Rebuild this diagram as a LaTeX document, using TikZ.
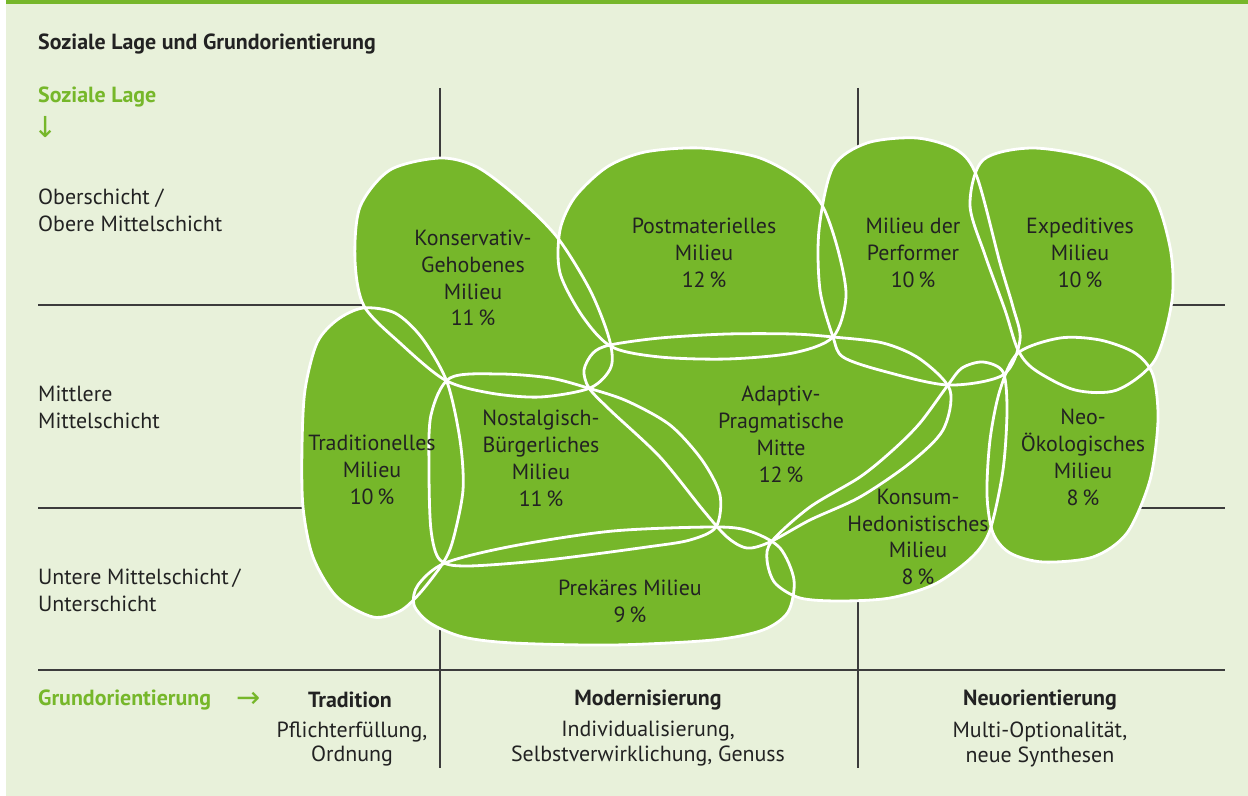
\documentclass[tikz,border=0pt]{standalone}
\usepackage{fontspec}
\setmainfont{PT Sans}
\newfontfamily\arrowfont{DejaVu Sans}
\usetikzlibrary{positioning}
\definecolor{milieu}{HTML}{76B72A}
\definecolor{panel}{HTML}{E8F1DA}
\definecolor{ink}{HTML}{222222}
\definecolor{rule}{HTML}{3C3C3C}

% the ten milieu shapes, drawn once for the fill and once for the outlines
\newcommand{\milieuShapes}[1]{%
  % Konservativ-Gehobenes
  \path[#1] plot[smooth cycle] coordinates {(440,158) (477,167) (517,197) (557,237) (590,290) (609,338) (611,367) (590,388) (540,397) (490,393) (445,380) (400,343) (364,306) (355,260) (360,207) (390,170)};
  % Postmaterielles
  \path[#1] plot[smooth cycle] coordinates {(700,148) (757,157) (797,178) (822,205) (838,250) (846,297) (833,337) (793,353) (727,359) (660,357) (612,347) (583,317) (560,273) (560,230) (575,197) (607,167) (645,152)};
  % Performer
  \path[#1] plot[smooth cycle] coordinates {(833,167) (867,143) (917,138) (957,150) (977,177) (1000,263) (1013,307) (1020,340) (1003,375) (948,385) (883,371) (843,357) (833,337) (820,290) (819,230)};
  % Expeditives
  \path[#1] plot[smooth cycle] coordinates {(970,205) (983,160) (1033,148) (1100,160) (1150,190) (1170,247) (1172,300) (1155,360) (1117,390) (1075,390) (1035,370) (1018,350) (1005,310) (985,255)};
  % Traditionelles
  \path[#1] plot[smooth cycle] coordinates {(363,308) (395,313) (422,338) (447,382) (460,440) (463,490) (453,540) (443,563) (420,593) (400,611) (373,617) (337,597) (313,557) (303,507) (302,447) (305,390) (317,343) (337,320)};
  % Nostalgisch-Buergerliches
  \path[#1] plot[smooth cycle] coordinates {(450,378) (500,374) (550,378) (588,388) (627,401) (670,425) (702,460) (720,495) (716,527) (690,540) (647,547) (547,560) (467,566) (440,560) (431,530) (429,470) (431,415)};
  % Adaptiv-Pragmatische
  \path[#1] plot[smooth cycle] coordinates {(610,345) (660,338) (727,334) (793,334) (833,337) (883,343) (920,359) (950,390) (943,430) (910,463) (860,497) (810,520) (770,542) (747,548) (727,537) (703,510) (660,457) (610,410) (589,388) (584,370) (593,353)};
  % Konsum-Hedonistisches
  \path[#1] plot[smooth cycle] coordinates {(810,507) (860,477) (893,450) (920,423) (948,385) (962,368) (983,362) (1003,372) (1007,410) (1003,470) (990,530) (972,557) (935,584) (890,598) (840,601) (800,598) (775,583) (767,560) (772,541)};
  % Neo-Oekologisches
  \path[#1] plot[smooth cycle] coordinates {(1018,353) (1060,338) (1100,340) (1135,353) (1153,375) (1158,420) (1150,480) (1127,533) (1093,557) (1043,562) (1010,553) (993,533) (987,495) (990,440) (1000,390)};
  % Prekaeres
  \path[#1] plot[smooth cycle] coordinates {(445,563) (513,546) (613,531) (718,527) (752,532) (780,548) (794,580) (788,612) (763,630) (713,640) (613,645) (513,643) (463,637) (430,623) (414,605) (418,585)};
}

\begin{document}
\begin{tikzpicture}[x=1bp, y=-1bp,
    every node/.style={font=\fontsize{22}{27}\selectfont, text=ink, inner sep=0pt},
    rowlabel/.style={anchor=west, align=left},
    milieutext/.style={align=center},
    heading/.style={font=\fontsize{22}{27}\selectfont\bfseries},
    greenhead/.style={heading, text=milieu},
    colhead/.style={heading, align=center},
    coltext/.style={align=center, font=\fontsize{22}{25}\selectfont},
    arrowsign/.style={text=milieu, font=\fontsize{29}{30}\arrowfont\selectfont},
    gridline/.style={draw=rule, line width=1.3bp},
]
    % === PANEL ===
    \useasboundingbox (0,0) rectangle (1248,796);
    \fill[white] (0,0) rectangle (1248,796);
    \fill[panel] (6,0) rectangle (1248,796);
    \fill[milieu] (6,0) rectangle (1248,4);

    % === GRID ===
    \draw[gridline] (38,305) -- (1225,305);
    \draw[gridline] (38,508) -- (1225,508);
    \draw[gridline] (38,670) -- (1225,670);
    \draw[gridline] (440,88) -- (440,768);
    \draw[gridline] (858,88) -- (858,768);

    % === MILIEUS ===
    \milieuShapes{fill=milieu}
    \milieuShapes{draw=white, line width=2.8bp}

    \node[milieutext] (kg) at (473,278) {Konservativ-\\Gehobenes\\Milieu\\11\,\%};
    \node[milieutext] (pm) at (704,253) {Postmaterielles\\Milieu\\12\,\%};
    \node[milieutext] (pf) at (913,253) {Milieu der\\Performer\\10\,\%};
    \node[milieutext] (ex) at (1080,253) {Expeditives\\Milieu\\10\,\%};
    \node[milieutext] (tr) at (372,470) {Traditionelles\\Milieu\\10\,\%};
    \node[milieutext] (nb) at (541,458) {Nostalgisch-\\Bürgerliches\\Milieu\\11\,\%};
    \node[milieutext] (ap) at (781,434) {Adaptiv-\\Pragmatische\\Mitte\\12\,\%};
    \node[milieutext] (kh) at (918,537) {Konsum-\\Hedonistisches\\Milieu\\8\,\%};
    \node[milieutext] (no) at (1083,457) {Neo-\\Ökologisches\\Milieu\\8\,\%};
    \node[milieutext] (pr) at (630,601) {Prekäres Milieu\\9\,\%};

    % === HEADINGS ===
    \node[heading, anchor=west] (title) at (38,44) {Soziale Lage und Grundorientierung};
    \node[greenhead, anchor=west] (lage) at (38,97) {Soziale Lage};
    \node[arrowsign] (lagearrow) at (46,127) {↓};

    % === ROWS ===
    \node[rowlabel] (ober) at (38,210) {Oberschicht /\\Obere Mittelschicht};
    \node[rowlabel] (mitte) at (38,407) {Mittlere\\Mittelschicht};
    \node[rowlabel] (unter) at (38,590) {Untere Mittelschicht\,/\\Unterschicht};

    % === COLUMNS ===
    \node[greenhead, anchor=west] (grund) at (38,700) {Grundorientierung};
    \node[arrowsign] (grundarrow) at (249,700) {→};
    \node[colhead] (trad) at (350,700) {Tradition};
    \node[coltext] (tradtext) at (352,744) {Pflichterfüllung,\\Ordnung};
    \node[colhead] (mod) at (648,700) {Modernisierung};
    \node[coltext] (modtext) at (648,744) {Individualisierung,\\Selbstverwirklichung, Genuss};
    \node[colhead] (neu) at (1040,700) {Neuorientierung};
    \node[coltext] (neutext) at (1040,744) {Multi-Optionalität,\\neue Synthesen};
\end{tikzpicture}
\end{document}
